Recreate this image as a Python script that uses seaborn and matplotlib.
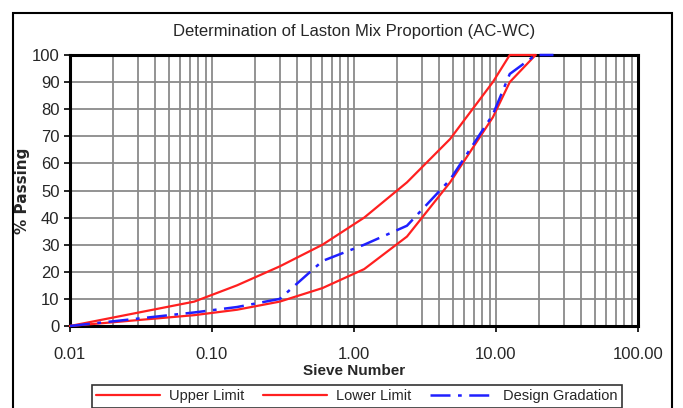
import matplotlib
matplotlib.use("Agg")
import matplotlib.pyplot as plt
import matplotlib.ticker as mticker
from matplotlib.patches import Rectangle
import numpy as np
import pandas as pd
import seaborn as sns

# Data
sieve_limits = [0.01, 0.075, 0.15, 0.3, 0.6, 1.18, 2.36, 4.75, 9.5, 12.5, 19.0]
upper_limit = [0, 9, 15, 22, 30, 40, 53, 69, 90, 100, 100]
lower_limit = [0, 4, 6, 9, 14, 21, 33, 53, 77, 90, 100]
sieve_design = [0.01, 0.075, 0.15, 0.3, 0.6, 1.18, 2.36, 4.75, 9.5, 12.5, 19.0, 25.4]
design_gradation = [0, 5, 7, 10, 24, 30, 37, 54, 78, 93, 100, 100]
x_tick_values = [0.01, 0.1, 1, 10, 100]
x_tick_labels = ["0.01", "0.10", "1.00", "10.00", "100.00"]
y_tick_values = list(range(0, 101, 10))
series_names = ["Upper Limit", "Lower Limit", "Design Gradation"]

sns.set_style("white")
plt.rcParams['font.family'] = ['Liberation Sans Narrow', 'Liberation Sans', 'DejaVu Sans']

fig = plt.figure(figsize=(6.83, 4.08), dpi=100)
ax = fig.add_axes([70/683, 1-326/408, (638-70)/683, (326-55)/408])

df_up = pd.DataFrame({"x": sieve_limits, "y": upper_limit})
df_lo = pd.DataFrame({"x": sieve_limits, "y": lower_limit})
df_de = pd.DataFrame({"x": sieve_design, "y": design_gradation})

sns.lineplot(data=df_up, x="x", y="y", ax=ax, color="#ff2020", lw=1.6,
             label=series_names[0], sort=False, zorder=3)
sns.lineplot(data=df_lo, x="x", y="y", ax=ax, color="#ff2020", lw=1.6,
             label=series_names[1], sort=False, zorder=3)
sns.lineplot(data=df_de, x="x", y="y", ax=ax, color="#2020ff", lw=1.8,
             label=series_names[2], sort=False, zorder=4)
ax.lines[2].set_dashes([8, 3, 1.5, 3])
for ln in ax.lines:
    ln.set_clip_on(False)

ax.set_xscale("log")
ax.set_xlim(0.01, 100)
ax.set_ylim(0, 100)
ax.xaxis.set_major_locator(mticker.FixedLocator(x_tick_values))
ax.xaxis.set_major_formatter(mticker.FixedFormatter(x_tick_labels))
ax.xaxis.set_minor_locator(mticker.LogLocator(base=10, subs=np.arange(2, 10)))
ax.xaxis.set_minor_formatter(mticker.NullFormatter())
ax.yaxis.set_major_locator(mticker.FixedLocator(y_tick_values))

ax.grid(True, which="both", axis="x", color="#8a8a8a", lw=1.3, zorder=1)
ax.grid(True, which="major", axis="y", color="#8a8a8a", lw=1.3, zorder=1)
ax.set_axisbelow(True)

for s in ax.spines.values():
    s.set_visible(True)
    s.set_color("black")
    s.set_linewidth(2.2)

ax.tick_params(axis="both", which="major", direction="out", length=4, width=1.2,
               labelsize=12, color="black", bottom=True, left=True)
ax.tick_params(axis="x", which="minor", length=0)
ax.tick_params(axis="x", pad=11)

ax.set_xlabel("Sieve Number", fontsize=11, fontweight="bold")
ax.xaxis.set_label_coords(0.5, -0.142)
ax.set_ylabel("% Passing", fontsize=11, fontweight="bold", family=['DejaVu Sans'])
ax.yaxis.set_label_coords(-0.07, 0.5)
ax.set_title("Determination of Laston Mix Proportion (AC-WC)", fontsize=12, pad=14)

handles, labels = ax.get_legend_handles_labels()
ax.get_legend().remove()
leg = fig.legend(handles, labels, loc="upper center", ncol=3,
                 bbox_to_anchor=(357/683, 1-385/408), frameon=True, fancybox=False,
                 edgecolor="black", fontsize=10.5, handlelength=4.4, columnspacing=1.3,
                 handletextpad=0.6, borderpad=0.3, borderaxespad=0)
leg.get_frame().set_linewidth(1.2)

fig.patches.append(Rectangle((13/683, -0.1), (672-13)/683, 1.1-13/408,
                             transform=fig.transFigure, fill=False,
                             edgecolor="black", lw=1.5, zorder=0))

fig.savefig("out.png", dpi=100)
